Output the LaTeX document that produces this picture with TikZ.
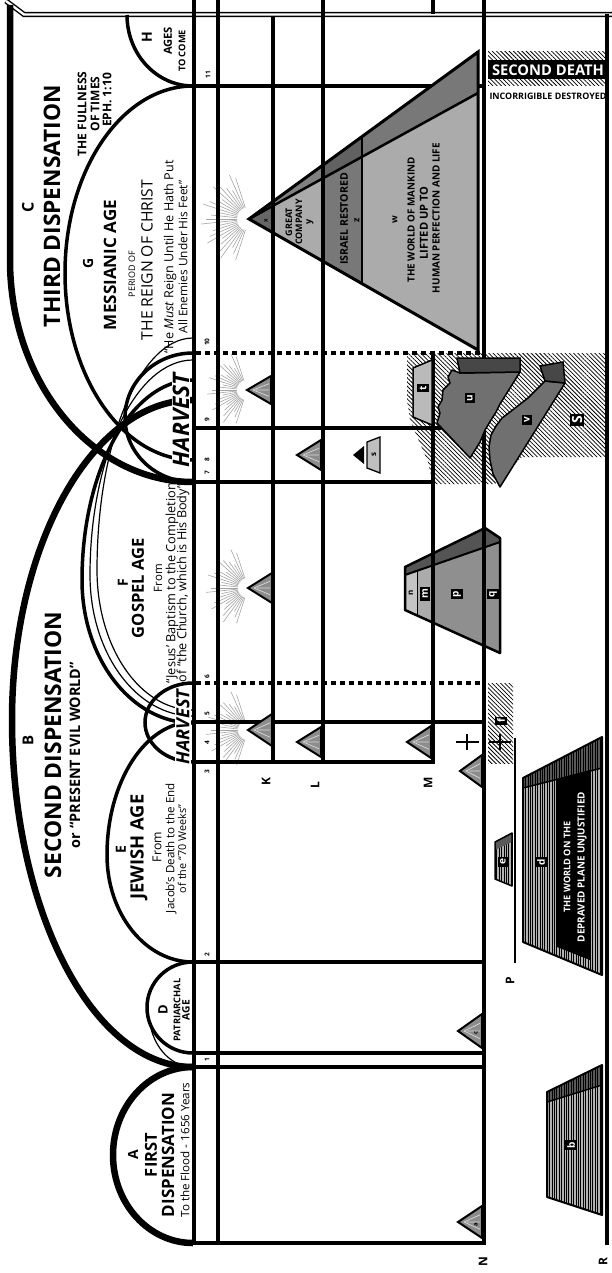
\documentclass[tikz,border=0pt]{standalone}
\usepackage{fontspec}
\usepackage{graphicx}
\setmainfont{Open Sans}
\usetikzlibrary{patterns.meta}
\newcommand\W[2]{\resizebox{#1pt}{!}{#2}}
\newcommand\stri[4]{%
  \draw[tri] (#1,#2) -- (#3,#2-#4) -- (#3,#2+#4) -- cycle;
  \draw[black!15, line width=0.7pt] (#1+6,#2) -- (#3-2,#2-#4*0.45) (#1+6,#2) -- (#3-2,#2+#4*0.45) (#1+9,#2) -- (#3-2,#2);}
\newcommand\rays[4]{%
  \foreach \a [count=\i] in {108,114,...,252}{%
    \pgfmathsetmacro\rr{#4-mod(\i*5,4)*5}%
    \draw[ray,shift={(#1,#2)}] (\a:#3) -- (\a:\rr);}}
\begin{document}
\begin{tikzpicture}[x=1pt,y=-1pt,
 gl/.style={line width=3.5pt},
 dotl/.style={line width=3.5pt, dash pattern=on 4.5pt off 4.5pt},
 disp/.style={line width=6.5pt},
 agearc/.style={line width=3.5pt},
 thinarc/.style={line width=1.2pt},
 txt/.style={rotate=90, inner sep=0pt, font=\bfseries},
 lt/.style={rotate=90, inner sep=0pt},
 num/.style={rotate=90, inner sep=0pt, font=\fontsize{6.5}{6.5}\selectfont\bfseries},
 plane/.style={rotate=90, inner sep=0pt, font=\fontsize{12}{12}\selectfont\bfseries},
 lbox/.style={rotate=90, fill=black, text=white, inner sep=2.2pt, font=\fontsize{10}{10}\selectfont\bfseries},
 ray/.style={black!35, line width=0.6pt},
 tri/.style={fill=black!45, draw=black, line width=2pt, line join=miter},
 hatch/.style={pattern={Lines[angle=-45,distance=3pt,line width=0.75pt]}},
 vstripe/.style={pattern={Lines[angle=90,distance=2.4pt,line width=0.75pt]}},
 harv/.style={rotate=90, inner sep=1pt, fill=white, font=\bfseries\itshape},
]
\useasboundingbox (0,0) rectangle (612,1273);
\fill[white] (0,0) rectangle (612,1273);

% rays
\rays{249}{219}{12}{48}
\rays{248}{588}{10}{42}
\rays{247}{390}{10}{40}
\rays{248}{730}{10}{42}

% line 11
\draw[gl] (192.25,86) -- (485.75,86);

% big pyramid fills
\fill[black!60] (249,219) -- (273,201.5) -- (273,232.7) -- cycle;
\fill[black!33] (273,205.8) -- (323,178.3) -- (323,261.3) -- (273,232.7) -- cycle;
\fill[black!50] (273,201.5) -- (323,165) -- (323,178.3) -- (273,205.8) -- cycle;
\fill[black!53] (323,178.3) -- (362,156.8) -- (362,283.6) -- (323,261.3) -- cycle;
\fill[black!62] (323,165) -- (362,136.6) -- (362,156.8) -- (323,178.3) -- cycle;
\fill[black!33] (362,156.8) -- (478,93) -- (478,350) -- (362,283.6) -- cycle;
\fill[black!53] (362,136.6) -- (478,52) -- (478,93) -- (362,156.8) -- cycle;

% gospel pyramid fills
\fill[black!23] (405,575) -- (417,570.8) -- (417,615.4) -- (405,610) -- cycle;
\fill[black!33] (417,570.8) -- (433,565.3) -- (433,622.7) -- (417,615.4) -- cycle;
\fill[black!44] (433,565.3) -- (485,547.2) -- (485,646.2) -- (433,622.7) -- cycle;
\fill[black!44] (485,547.2) -- (500,542) -- (500,653) -- (485,646.2) -- cycle;
\fill[black!67] (405,567) -- (485,528) -- (500,538) -- (500,542) -- (405,575) -- cycle;

% S hatch
\fill[white] (407,353) -- (607,353) -- (607,457) -- (522,457) -- (495,484) -- (433,484) -- (428,462) -- (410,420) -- (407,400) -- cycle;
\fill[hatch] (407,353) -- (607,353) -- (607,457) -- (522,457) -- (495,484) -- (433,484) -- (428,462) -- (410,420) -- (407,400) -- cycle;

% second death box
\fill[hatch] (488,52) rectangle (607,60);
\fill[hatch] (488,79) rectangle (607,86);
\fill[black] (488,60) rectangle (607,79);

% f hatch
\fill[hatch] (488,683) rectangle (513,763);

% border
\draw[double, line width=1.4pt, double distance=2.4pt] (6,1) -- (24,14.5) -- (612,14.5);

% grid lines
\draw[gl] (194,0) -- (194,1245);
\draw[gl] (218,0) -- (218,1245);
\draw[gl] (273,16) -- (273,763.75);
\draw[gl] (323,0) -- (323,763.75);
\draw[gl] (433,0) -- (433,14);
\draw[gl] (433,353) -- (433,763.75);
\draw[gl] (484,0) -- (484,1244.75);
\draw[gl] (607,14) -- (607,1245);
\draw[dotl] (196,353) -- (484,353);
\draw[gl] (194,428) -- (441,428);
\draw[gl] (194,482) -- (433,482);
\draw[dotl] (196,683) -- (484,683);
\draw[gl] (194,722) -- (484,722);
\draw[gl] (194,762) -- (434.75,762);
\draw[gl] (194,962) -- (484,962);
\draw[gl] (194,1053) -- (484,1053);
\draw[gl] (194,1067) -- (484,1067);
\draw[gl] (192,1243) -- (485.75,1243);

% big pyramid outlines
\draw[line width=3pt, line join=miter] (249,219) -- (478,52) -- (478,350) -- cycle;
\draw[line width=2.5pt] (249,219) -- (478,93);
\draw[line width=2.5pt] (362,136.6) -- (362,283.6);

% gospel pyramid outline
\draw[line width=2.5pt, line join=round] (405,567) -- (485,528) -- (500,538) -- (500,653) -- (405,610) -- cycle;
\draw[line width=2pt] (405,575) -- (500,542);
\draw[line width=1pt] (417,570.8) -- (417,615.4);

% t block
\fill[black!27, draw=black, line width=1.5pt] (413,368) -- (432,360) -- (432,425) -- (413,417) -- cycle;
% u block
\fill[black!56, draw=black, line width=1.5pt, line join=round] (460,373) -- (520,372) -- (515,380) -- (510,388) -- (505,396) -- (500,404) -- (496,412) -- (491,420) -- (485,430) -- (480,442) -- (470,458) -- (437,423) -- (440,413) -- (438,407) -- (442,400) -- (443,390) -- (450,383) -- (448,377) -- (452,370) -- cycle;
\fill[black!72, draw=black, line width=1.5pt] (457,358) -- (520,358) -- (520,372) -- (460,373) -- cycle;
% v block
\fill[black!56, draw=black, line width=1.5pt, line join=round] (545,381) -- (565,383) -- (500,487) -- (493,474) -- (490,460) -- (489,447) -- (491,435) -- (496,426) -- (502,418) -- (510,412) -- (519,405) -- (528,398) -- (536,390) -- cycle;
\fill[black!72, draw=black, line width=1.5pt] (540,366) -- (563,362) -- (565,383) -- (545,381) -- cycle;

% s element
\fill[black] (353,455) -- (364,446) -- (364,464) -- cycle;
\fill[black!25, draw=black, line width=1.3pt] (367,442) -- (380,437) -- (380,473) -- (367,468) -- cycle;

% d block
\fill[black!30] (523,778) -- (602,737) -- (602,975) -- (523,942) -- cycle;
\fill[vstripe] (523,778) -- (602,737) -- (602,975) -- (523,942) -- cycle;
\fill[black!65] (523,778) -- (602,737) -- (602,768) -- (523,788) -- cycle;
\fill[vstripe] (523,778) -- (602,737) -- (602,768) -- (523,788) -- cycle;
\fill[black] (557,779) -- (590,770) -- (590,960) -- (557,947) -- cycle;
\draw[line width=2pt, line join=round] (523,778) -- (602,737) -- (602,975) -- (523,942) -- cycle;
\draw[line width=1.5pt] (523,788) -- (602,768);
% e block
\fill[black!30] (495,842) -- (512,833) -- (512,886) -- (495,879) -- cycle;
\fill[vstripe] (495,842) -- (512,833) -- (512,886) -- (495,879) -- cycle;
\fill[black!65] (495,842) -- (512,833) -- (512,842) -- (495,850) -- cycle;
\draw[line width=1.5pt, line join=round] (495,842) -- (512,833) -- (512,886) -- (495,879) -- cycle;
% b block
\fill[black!30] (547,1092) -- (602,1065) -- (602,1215) -- (547,1197) -- cycle;
\fill[vstripe] (547,1092) -- (602,1065) -- (602,1215) -- (547,1197) -- cycle;
\fill[black!65] (547,1092) -- (602,1065) -- (602,1085) -- (547,1102) -- cycle;
\fill[vstripe] (547,1092) -- (602,1065) -- (602,1085) -- (547,1102) -- cycle;
\draw[line width=2pt, line join=round] (547,1092) -- (602,1065) -- (602,1215) -- (547,1197) -- cycle;
\draw[line width=1.5pt] (547,1102) -- (602,1085);

% P line
\draw[line width=1.3pt] (515,738) -- (515,963);

% arcs
\draw[disp] (193,1067) arc[start angle=-90,end angle=-270,x radius=80,y radius=88];
\draw[disp] (193,1067) arc[start angle=90,end angle=180,x radius=181,y radius=347] arc[start angle=180,end angle=270,x radius=181,y radius=320];
\draw[disp] (10,5) -- (10,260) arc[start angle=180,end angle=90,x radius=183,y radius=222];
\draw[agearc] (193,962) arc[start angle=-90,end angle=-270,x radius=46,y radius=45.5];
\draw[thinarc] (193,1067) arc[start angle=90,end angle=170,x radius=44,y radius=55];
\draw[agearc] (193,962) arc[start angle=90,end angle=180,x radius=86,y radius=107] arc[start angle=180,end angle=270,x radius=86,y radius=133];
\draw[agearc] (193,683) arc[start angle=-90,end angle=-270,x radius=48,y radius=39.5];
\draw[agearc] (193,723) arc[start angle=90,end angle=180,x radius=111,y radius=143] arc[start angle=180,end angle=270,x radius=111,y radius=200];
\draw[thinarc] (193,716) arc[start angle=90,end angle=180,x radius=103,y radius=141] arc[start angle=180,end angle=270,x radius=103,y radius=215];
\draw[thinarc] (193,710) arc[start angle=90,end angle=180,x radius=96,y radius=140] arc[start angle=180,end angle=270,x radius=96,y radius=232];
\draw[agearc] (193,353) arc[start angle=-90,end angle=-270,x radius=68,y radius=64.5];
\draw[agearc] (193,86) arc[start angle=-90,end angle=-270,x radius=128,y radius=187];
\draw[agearc] (127,15) arc[start angle=180,end angle=90,x radius=66,y radius=71];

% small triangles
\stri{458}{1222}{482}{16}
\stri{458}{1031}{482}{17}
\stri{248}{730}{272}{16}
\stri{297}{742}{321}{15}
\stri{407}{742}{431}{16}
\stri{460}{771}{482}{16}
\stri{248}{588}{272}{15}
\stri{247}{390}{271}{14}
\stri{297}{455}{321}{15}

% crosses
\draw[line width=2.2pt] (456,742) -- (479,742) (467,734) -- (467,750);
\draw[line width=2.2pt] (489,742) -- (511,742) (500,734) -- (500,750);

% ===== texts =====
\node[txt] (tA) at (133,1155) {\fontsize{14}{14}\selectfont A};
\node[txt] (tA1) at (151,1155) {\W{44}{FIRST}};
\node[txt] (tA2) at (168,1155) {\W{124}{DISPENSATION}};
\node[lt] (tA3) at (185,1150) {\W{135}{To the Flood - 1656 Years}};

\node[txt] (tD) at (163,1010) {\fontsize{13}{13}\selectfont D};
\node[txt] (tD1) at (177,1010) {\W{63}{PATRIARCHAL}};
\node[txt] (tD2) at (186,1010) {\W{20}{AGE}};

\node[txt] (tE) at (121,850) {\fontsize{14}{14}\selectfont E};
\node[txt] (tE1) at (139,847) {\W{105}{JEWISH AGE}};
\node[lt] (tE2) at (157,847) {\W{30}{From}};
\node[lt] (tE3) at (171,848) {\W{130}{Jacob’s Death to the End}};
\node[lt] (tE4) at (182,849) {\W{88}{of the “70 Weeks”}};

\node[txt] (tB) at (28,740) {\fontsize{15}{15}\selectfont B};
\node[txt] (tB1) at (53,745) {\W{266}{SECOND DISPENSATION}};
\node[txt] (tB2) at (75,755) {\W{186}{or “PRESENT EVIL WORLD”}};

\node[txt] (tF) at (123,583) {\fontsize{14}{14}\selectfont F};
\node[txt] (tF1) at (138,588) {\W{100}{GOSPEL AGE}};
\node[lt] (tF2) at (158,578) {\W{28}{From}};
\node[lt] (tF3) at (172,583) {\W{200}{“Jesus’ Baptism to the Completion}};
\node[lt] (tF4) at (183,583) {\W{198}{of “the Church, which is His Body”}};

\node[harv] (hv1) at (183,727) {\W{75}{HARVEST}};
\node[harv] (hv2) at (181,420) {\W{94}{HARVEST}};

\node[txt] (tC) at (28,207) {\fontsize{16}{16}\selectfont C};
\node[txt] (tC1) at (52,206) {\W{242}{THIRD DISPENSATION}};
\node[txt] (tC2) at (82,114) {\fontsize{12}{12}\selectfont THE FULLNESS};
\node[txt] (tC3) at (95,104) {\fontsize{12}{12}\selectfont OF TIMES};
\node[txt] (tC4) at (107,100) {\fontsize{12}{12}\selectfont EPH. 1:10};

\node[txt] (tG) at (88,263) {\fontsize{14}{14}\selectfont G};
\node[txt] (tG1) at (110,265) {\W{130}{MESSIANIC AGE}};
\node[lt] (tG2) at (132,274) {\W{46}{PERIOD OF}};
\node[lt] (tG3) at (147,260) {\W{160}{THE REIGN OF CHRIST}};
\node[lt] (tG4) at (170,257) {\W{193}{“He \textit{Must} Reign Until He Hath Put}};
\node[lt] (tG5) at (183,257) {\W{153}{All Enemies Under His Feet”}};

\node[txt] (tH) at (147,37) {\fontsize{14}{14}\selectfont H};
\node[txt] (tH1) at (168,41) {\W{28}{AGES}};
\node[txt] (tH2) at (182,51) {\W{42}{TO COME}};

\node[font=\bfseries, text=white, inner sep=0pt] (sd) at (548,70) {\W{112}{SECOND DEATH}};
\node[font=\bfseries, inner sep=0pt] (sd2) at (548,96) {\W{117}{INCORRIGIBLE DESTROYED}};

\node[txt, font=\fontsize{6}{6}\selectfont\bfseries] (px) at (266,221) {x};
\node[txt, font=\fontsize{9}{9}\selectfont\bfseries] (py1) at (289,222) {GREAT};
\node[txt, font=\fontsize{9}{9}\selectfont\bfseries] (py2) at (299,222) {COMPANY};
\node[txt, font=\fontsize{9}{9}\selectfont\bfseries] (py3) at (310,222) {y};
\node[txt] (pz1) at (344,219) {\W{92}{ISRAEL RESTORED}};
\node[txt, font=\fontsize{9}{9}\selectfont\bfseries] (pz2) at (357,220) {z};
\node[txt, font=\fontsize{9}{9}\selectfont\bfseries] (pw) at (395,220) {w};
\node[txt] (pw1) at (411,220) {\W{125}{THE WORLD OF MANKIND}};
\node[txt] (pw2) at (424,223) {\W{73}{LIFTED UP TO}};
\node[txt] (pw3) at (436,218) {\W{150}{HUMAN PERFECTION AND LIFE}};

\node[lbox] (lt) at (423,388) {t};
\node[lbox] (lu) at (470,398) {u};
\node[lbox] (lv) at (527,420) {v};
\node[lbox, font=\fontsize{14}{14}\selectfont\bfseries] (lS) at (577,420) {S};
\node[txt, font=\fontsize{8}{8}\selectfont\bfseries] (ls) at (374,455) {s};
\node[txt, font=\fontsize{8}{8}\selectfont\bfseries] (ln) at (411,593) {n};
\node[lbox] (lm) at (425,594) {m};
\node[lbox] (lp) at (457,594) {p};
\node[lbox] (lq) at (493,594) {q};
\node[lbox] (lf) at (501,721) {f};
\node[lbox] (le) at (503,862) {e};
\node[lbox] (ld) at (541,862) {d};
\node[lbox] (lb) at (571,1145) {b};
\node[txt, font=\fontsize{6}{6}\selectfont\bfseries] (la) at (476,1225) {a};
\node[txt, font=\fontsize{6}{6}\selectfont\bfseries] (lc) at (476,1033) {c};

\node[txt, text=white] (dw1) at (567,867) {\W{91}{THE WORLD ON THE}};
\node[txt, text=white] (dw2) at (582,867) {\W{150}{DEPRAVED PLANE UNJUSTIFIED}};

\node[plane] (pK) at (266,782) {K};
\node[plane] (pL) at (315,785) {L};
\node[plane] (pM) at (428,783) {M};
\node[plane] (pN) at (483,1262) {N};
\node[plane] (pP) at (510,981) {P};
\node[plane] (pR) at (603,1262) {R};

\node[num] (n11) at (208,75) {11};
\node[num] (n10) at (207,342) {10};
\node[num] (n9) at (207,420) {9};
\node[num] (n8) at (207,460) {8};
\node[num] (n7) at (207,473) {7};
\node[num] (n6) at (207,677) {6};
\node[num] (n5) at (207,714) {5};
\node[num] (n4) at (207,743) {4};
\node[num] (n3) at (207,772) {3};
\node[num] (n2) at (207,955) {2};
\node[num] (n1) at (207,1060) {1};
\end{tikzpicture}
\end{document}
